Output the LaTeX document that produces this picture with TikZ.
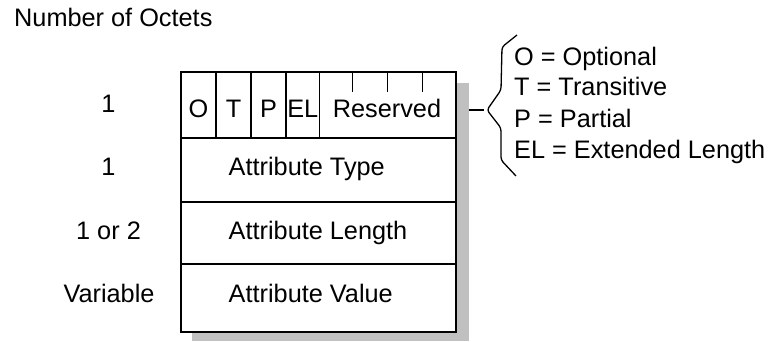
\documentclass[tikz,border=0pt]{standalone}
\usepackage{fontspec}
\setmainfont{Liberation Sans}
\definecolor{shadowgray}{RGB}{192,192,192}
\begin{document}
\begin{tikzpicture}[x=1pt,y=-1pt,
  txt/.style={inner sep=0pt,anchor=base,font=\fontsize{25.3}{30}\selectfont},
  ltxt/.style={txt,anchor=base west},
  thin line/.style={line width=1.3pt,black},
  thick line/.style={line width=2.2pt,black},
  shadowbox/.style={fill=shadowgray,draw=none}]
\useasboundingbox (0,0) rectangle (770,341);
% shadow
\fill[shadowbox] (192,83) rectangle (468.5,341);
% outer box
\fill[white] (181,72) rectangle (456,332);
\coordinate (tl) at (181,72);
\coordinate (br) at (456,332);
% row separators
\draw[thin line] (181,138) -- (456,138);
\draw[thin line] (181,202) -- (456,202);
\draw[thin line] (181,264) -- (456,264);
% first row dividers
\foreach \xx in {216,251,286,319.5} \draw[thin line] (\xx,72) -- (\xx,138);
% reserved ticks
\foreach \xx in {352.7,387.3,422.3} \draw[thin line] (\xx,72) -- (\xx,92);
\draw[thick line] (tl) rectangle (br);
% field texts
\node[txt] (fo) at (198.5,117.3) {O};
\node[txt] (ft) at (233.5,117.3) {T};
\node[txt] (fp) at (268.5,117.3) {P};
\node[txt] (fel) at (302.75,117.3) {EL};
\node[txt] (fres) at (387,117.3) {Reserved};
\node[ltxt] (ftype) at (228.5,175.6) {Attribute Type};
\node[ltxt] (flen) at (228.5,239) {Attribute Length};
\node[ltxt] (fval) at (228.5,302.5) {Attribute Value};
% octet counts
\node[ltxt] (title) at (14,26) {Number of Octets};
\node[txt] (n1) at (108.5,112.3) {1};
\node[txt] (n2) at (108.5,175.6) {1};
\node[txt] (n3) at (108.5,239) {1 or 2};
\node[txt] (n4) at (109,302.5) {Variable};
% brace and legend
\coordinate (dashstart) at (469,110);
\coordinate (bracetip) at (484,110);
\draw[thin line] (dashstart) -- (bracetip);
\draw[thin line,rounded corners=3pt] (517,35) -- (502,47) -- (501,90) -- (487,110) -- (501,128) -- (501,160) -- (516,176);
\node[ltxt] (lo) at (514,65) {O = Optional};
\node[ltxt] (lt) at (514,95.5) {T = Transitive};
\node[ltxt] (lp) at (514,127) {P = Partial};
\node[ltxt] (lel) at (514,158) {EL = Extended Length};
\end{tikzpicture}
\end{document}
